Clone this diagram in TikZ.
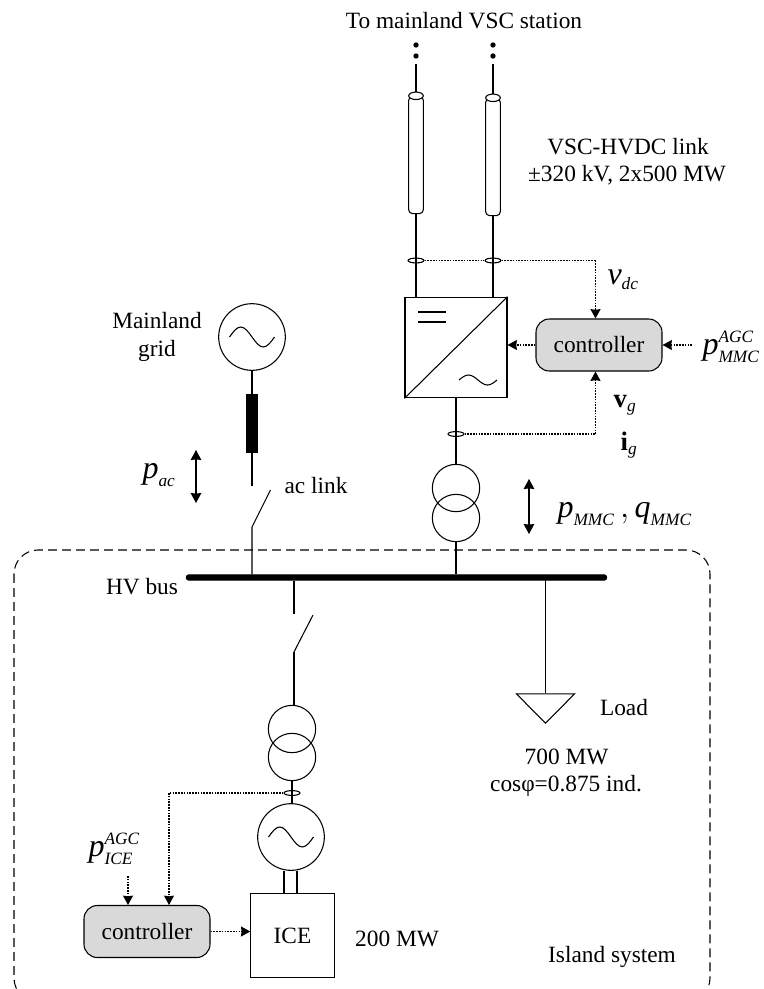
\documentclass[tikz,border=0pt]{standalone}
\usepackage{amsmath}
\usepackage{fontspec}
\setmainfont{Liberation Serif}
\usetikzlibrary{arrows.meta, positioning, shapes.geometric}
\newcommand{\itvar}[1]{\text{\itshape #1}}
\newcommand{\subv}[1]{\text{\fontsize{13}{14}\selectfont\itshape #1}}
\newcommand{\acwave}[3]{\draw (#1.center) ++(-#2,0) sin ++(#2/2,-#3) cos ++(#2/2,#3) sin ++(#2/2,#3) cos ++(#2/2,-#3);}

\begin{document}
\begin{tikzpicture}[x=0.75pt, y=-0.75pt, line width=0.8pt, font=\fontsize{17.5}{20}\selectfont,
  gen/.style={draw, circle, minimum size=50pt, inner sep=0pt},
  xfmr/.style={draw, circle, minimum size=35.5pt, inner sep=0pt},
  ring/.style={draw, ellipse, minimum width=12pt, minimum height=3.6pt, inner sep=0pt},
  cable/.style={draw, rounded corners=3pt, minimum width=11pt, minimum height=88pt, inner sep=0pt},
  cabletop/.style={draw, ellipse, fill=white, minimum width=11pt, minimum height=5.6pt, inner sep=0pt},
  ctrl/.style={draw, rounded corners=10pt, fill=black!15, minimum width=94.5pt, minimum height=39pt, inner sep=0pt},
  dotb/.style={circle, fill=black, minimum size=4pt, inner sep=0pt},
  sig/.style={dash pattern=on 1.2pt off 0.9pt, line width=0.85pt},
  sigar/.style={sig, -{Stealth[length=7pt, width=7.5pt, inset=0.5pt]}},
  flow/.style={line width=0.9pt, {Stealth[length=7.5pt, width=8pt, inset=0.5pt]}-{Stealth[length=7.5pt, width=8pt, inset=0.5pt]}},
  bigm/.style={font=\fontsize{24}{26}\selectfont, inner sep=0pt},
  lbl/.style={inner sep=0pt, align=center}]
  \useasboundingbox (0,0) rectangle (764,989);
  \clip (0,0) rectangle (764,989);
  % island boundary and bus
  \draw[dash pattern=on 6.7pt off 3.8pt, rounded corners=18pt] (14,550) rectangle (710,1002);
  \node[draw, fill=black, rounded corners=1.5pt, minimum width=315pt, minimum height=3.8pt, inner sep=0pt] (bus) at (396.5,577.5) {};
  \node[lbl] (hv) at (142,587) {HV bus};
  % dc cables
  \node[lbl] (top) at (464,21) {To mainland VSC station};
  \foreach \nm/\xc/\yc in {a/416/155, b/493/157}{
    \node[cable] (c\nm) at (\xc,\yc) {};
    \node[cabletop] (t\nm) at (c\nm.north) {};
    \node[dotb] (da\nm) at (\xc,45) {};
    \node[dotb] (db\nm) at (\xc,56) {};
    \coordinate (e\nm) at (\xc,64);
    \draw (e\nm) -- (t\nm.north);
    \node[ring] (s\nm) at (\xc,260.5) {};
  }
  \node[lbl] (hvdc) at (628,147) {VSC-HVDC link};
  \node[lbl] (rate) at (627,175) {±320 kV, 2x500 MW};
  % converter station
  \node[draw, minimum width=76.5pt, minimum height=75.5pt, inner sep=0pt] (conv) at (456,347.5) {};
  \draw (conv.south west) -- (conv.north east);
  \draw (ca.south) -- (conv.north -| ca.south);
  \draw (cb.south) -- (conv.north -| cb.south);
  \coordinate (dl) at (418,312);
  \coordinate (dr) at (446,312);
  \draw (dl) -- (dr);
  \draw ([yshift=-7.5pt]dl) -- ([yshift=-7.5pt]dr);
  \coordinate (acm) at (478,380);
  \acwave{acm}{19}{5}
  \node[ctrl] (ctrla) at (599,345) {controller};
  \coordinate (ja) at (595.5,260.5);
  \draw[sig] (sa.east) -- (sb.west);
  \draw[sig] (sb.east) -- (ja);
  \draw[sigar] (ja) -- (ja |- ctrla.north);
  \draw[sigar] (ctrla.west) -- (conv.east |- ctrla.west);
  \node[bigm, anchor=west] (pmmc) at (702,347) {$\itvar{p}^{\subv{AGC}}_{\subv{MMC}\rule{0pt}{10.5pt}}$};
  \coordinate (pin) at (692,345);
  \draw[sigar] (pin) -- (ctrla.east);
  \node[bigm, anchor=west] (vdc) at (607,280) {$\itvar{v}_{\subv{dc}}$};
  \node[lbl, font=\fontsize{20}{22}\selectfont] (vg) at (625,405) {$\text{\bfseries v}_{\subv{g}}$};
  \node[lbl, font=\fontsize{20}{22}\selectfont] (ig) at (629,445) {$\text{\bfseries i}_{\subv{g}}$};
  % transformer below converter
  \node[xfmr] (t1) at (456,488) {};
  \node[xfmr] (t2) at (456,518) {};
  \node[ring] (sg) at (456,434) {};
  \draw (conv.south -| t1) -- (t1.north);
  \draw (t2.south) -- (bus.north -| t2.south);
  \coordinate (jg) at (595.5,434);
  \draw[sig] (sg.east) -- (jg);
  \draw[sigar] (jg) -- (jg |- ctrla.south);
  \coordinate (ftop) at (529,479);
  \coordinate (fbot) at (529,534);
  \draw[flow] (ftop) -- (fbot);
  \node[bigm, anchor=west] (pq) at (557,514) {$\itvar{p}_{\subv{MMC}}\,,\itvar{q}_{\subv{MMC}}$};
  % ac link
  \node[gen] (gm) at (252,337) {};
  \acwave{gm}{22.5}{10}
  \node[draw, fill=black, minimum width=7.5pt, minimum height=43pt, inner sep=0pt] (lnk) at (252,423.5) {};
  \coordinate (lk1) at (252,486);
  \coordinate (sw1) at (252,527);
  \coordinate (sw2) at (270.5,490);
  \draw (gm.south) -- (lnk.north);
  \draw (lnk.south) -- (lk1);
  \draw (sw2) -- (sw1) -- (sw1 |- bus.north);
  \node[lbl] (mg) at (157,337) {Mainland\\[1pt]grid};
  \node[lbl] (acl) at (316,486) {ac link};
  \coordinate (fa) at (196,450);
  \coordinate (fb) at (196,503);
  \draw[flow] (fa) -- (fb);
  \node[bigm, anchor=west] (pac) at (142,475) {$\itvar{p}_{\subv{ac}}$};
  % ICE branch
  \coordinate (sw3) at (294,614);
  \coordinate (sw4) at (294,652);
  \coordinate (sw5) at (313,615);
  \draw (sw3 |- bus.south) -- (sw3);
  \draw (sw5) -- (sw4);
  \node[xfmr] (t3) at (292,729) {};
  \node[xfmr] (t4) at (292,757) {};
  \draw (sw4) -- (sw4 |- t3.north);
  \node[gen] (gi) at (291,837) {};
  \acwave{gi}{22.5}{10}
  \node[ring] (si) at (292,793) {};
  \draw (t4.south) -- (gi.north -| t4.south);
  \node[draw, minimum width=62.5pt, minimum height=63.5pt, inner sep=0pt] (ice) at (292.5,935.5) {ICE};
  \draw (284,871) -- (284,893);
  \draw (297,871) -- (297,893);
  \node[lbl] (mw) at (397,939) {200 MW};
  \node[ctrl] (ctrlb) at (147,931.5) {controller};
  \draw[sigar] (ctrlb.east) -- (ice.west |- ctrlb.east);
  \coordinate (ji) at (169,793);
  \draw[sig] (si.west) -- (ji);
  \draw[sigar] (ji) -- (ji |- ctrlb.north);
  \coordinate (pi) at (128,876);
  \draw[sigar] (pi) -- (pi |- ctrlb.north);
  \node[bigm, anchor=west] (pice) at (88,849) {$\itvar{p}^{\subv{AGC}}_{\subv{ICE}\rule{0pt}{10.5pt}}$};
  % load
  \node[draw, isosceles triangle, shape border rotate=-90, isosceles triangle stretches, minimum width=43.5pt, minimum height=22pt, inner sep=0pt] (ld) at (545.5,706) {};
  \draw (ld.north -| 545.5,0) -- (545.5,577);
  \node[lbl] (ldt) at (624,708) {Load};
  \node[lbl] (ldp) at (566.5,757) {700 MW};
  \node[lbl] (ldc) at (566,786) {cosφ=0.875 ind.};
  \node[lbl] (isl) at (612,957) {Island system};
\end{tikzpicture}
\end{document}
